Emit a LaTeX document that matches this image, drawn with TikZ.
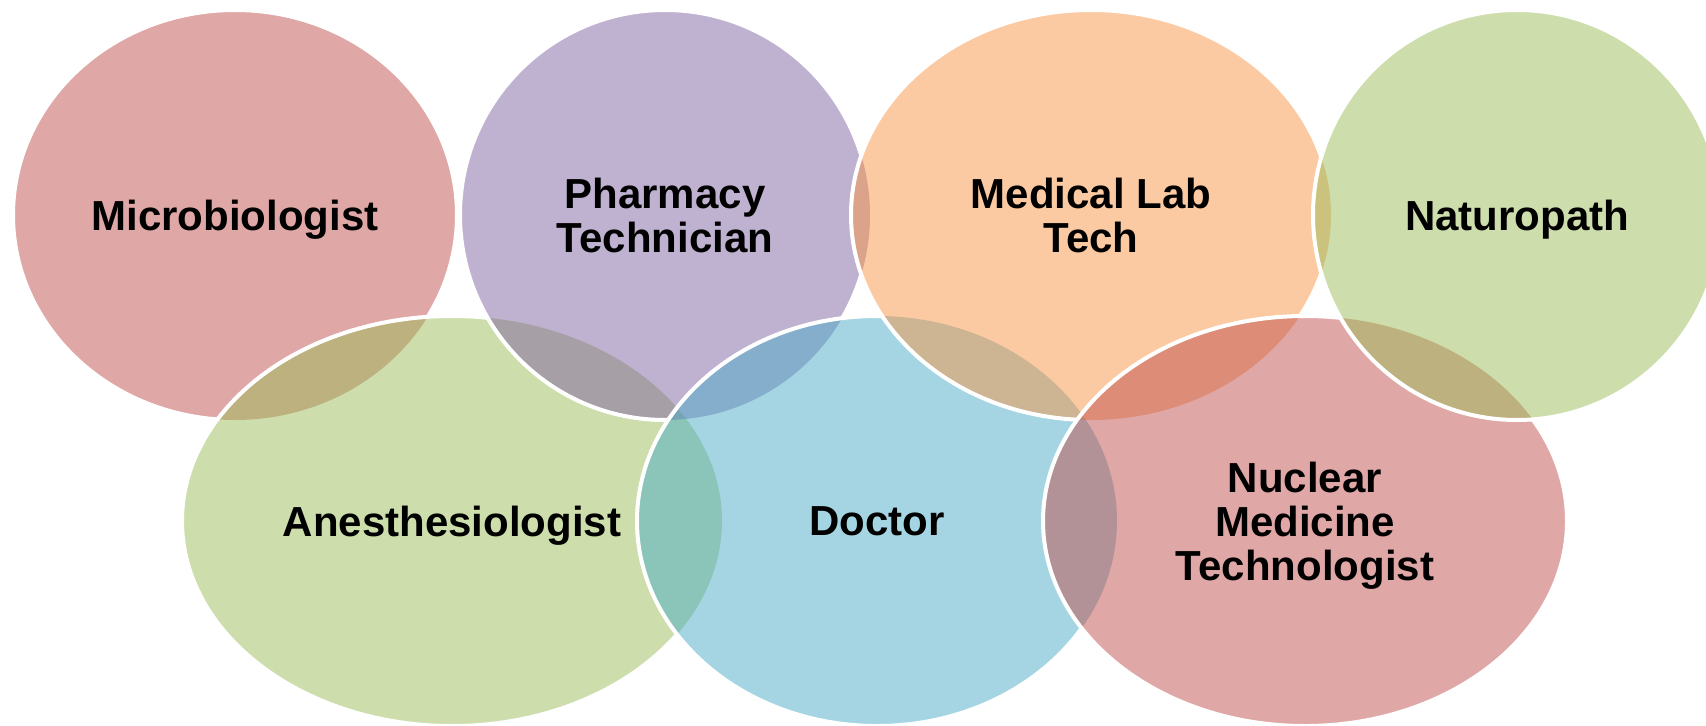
\documentclass[tikz,border=0pt]{standalone}
\usepackage{fontspec}
\setmainfont{Liberation Sans}
\usetikzlibrary{backgrounds}

\definecolor{accred}{HTML}{C0504D}
\definecolor{accpurple}{HTML}{8064A2}
\definecolor{accorange}{HTML}{F79646}
\definecolor{accgreen}{HTML}{9BBB59}
\definecolor{accblue}{HTML}{4BACC6}

% the ellipse behind a label
\newcommand{\blob}[1]{(#1) ellipse [x radius=\csname rx#1\endcsname, y radius=205]}

\begin{document}
\begin{tikzpicture}[x=0.5pt,y=0.5pt,
	lbl/.style={font=\fontsize{21}{22}\selectfont\bfseries, align=center, text depth=0pt},
	rim/.style={draw=white, line width=2pt}]

\useasboundingbox (0,0) rectangle (1706,725);

\foreach \n/\x/\y/\r/\txt in {
		micro/235/510/222/Microbiologist,
		anesth/452/204/270/Anesthesiologist,
		pharm/665/510/205/{Pharmacy\\Technician},
		doctor/877/204/240/Doctor,
		mlt/1091/510/240/{Medical Lab\\Tech},
		nuclear/1305/204/262/{Nuclear\\Medicine\\Technologist},
		natur/1517/510/204/Naturopath}
{
	\node[lbl] (\n) at (\x,\y) {\txt};
	\expandafter\xdef\csname rx\n\endcsname{\r}
}

\begin{scope}[on background layer]
	\foreach \n/\c in {micro/accred, anesth/accgreen, pharm/accpurple, doctor/accblue,
			mlt/accorange, nuclear/accred, natur/accgreen}
		\fill[\c, fill opacity=0.5] \blob{\n};

	% each rim is hidden under the ellipses laid after it
	\foreach \n/\later in {micro/{anesth,pharm,doctor,mlt,nuclear,natur},
			anesth/{pharm,doctor,mlt,nuclear,natur}, pharm/{doctor,mlt,nuclear,natur},
			doctor/{mlt,nuclear,natur}, mlt/{nuclear,natur}, nuclear/{natur}}
	{
		\begin{scope}[even odd rule]
			\foreach \m in \later
				\clip (-20,-20) rectangle (1730,745) \blob{\m};
			\draw[rim] \blob{\n};
		\end{scope}
	}
	\draw[rim] \blob{natur};
\end{scope}

\end{tikzpicture}
\end{document}
